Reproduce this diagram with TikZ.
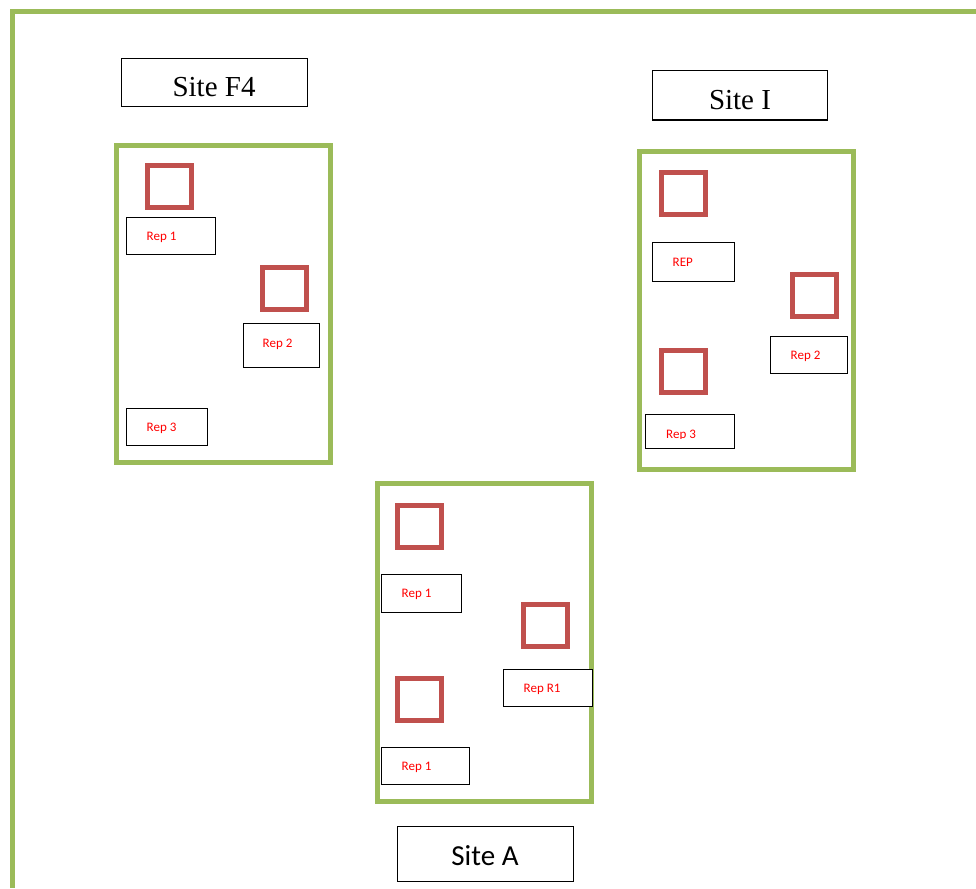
\documentclass[tikz,border=0pt]{standalone}
\usepackage{fontspec}
\setmainfont{Liberation Serif}
\newfontfamily\calibrifont{Carlito}
\definecolor{frgreen}{HTML}{9BBB59}
\definecolor{sqred}{HTML}{C0504D}
\definecolor{txtred}{HTML}{FF0000}
\begin{document}
\begin{tikzpicture}[x=1pt,y=-1pt,
  siteframe/.style={draw=frgreen,line width=5pt,inner sep=0pt,rectangle},
  repsq/.style={draw=sqred,line width=5pt,inner sep=0pt,minimum width=44pt,minimum height=42pt},
  repbox/.style={draw=black,fill=white,line width=1pt,inner sep=0pt},
  replabel/.style={text=txtred,font=\calibrifont\fontsize{13}{15}\selectfont,inner sep=0pt,anchor=west},
  titlebox/.style={draw=black,line width=1pt,inner sep=0pt},
  titletext/.style={font=\fontsize{29}{34}\selectfont,inner sep=0pt,anchor=base},
]
\useasboundingbox (0,0) rectangle (976,888);
\fill[white] (0,0) rectangle (976,888);
% outer frame
\coordinate (otr) at (976,12);
\coordinate (otl) at (12,12);
\coordinate (obl) at (12,888);
\draw[frgreen,line width=5pt] (otr) -- (otl) -- (obl);

% site frames
\node[siteframe,minimum width=214pt,minimum height=317pt] (f4) at (223.5,304) {};
\node[siteframe,minimum width=214pt,minimum height=318pt] (si) at (746.5,310.5) {};
\node[siteframe,minimum width=214pt,minimum height=318pt] (sa) at (484.5,642.5) {};

% red squares
\node[repsq] (f4s1) at (169.5,186.5) {};
\node[repsq] (f4s2) at (284.5,288.5) {};
\node[repsq] (sis1) at (683.5,193) {};
\node[repsq] (sis2) at (814.5,295) {};
\node[repsq] (sis3) at (683.5,371) {};
\node[repsq] (sas1) at (419,526) {};
\node[repsq] (sas2) at (545.5,625.5) {};
\node[repsq] (sas3) at (419,699.5) {};

% rep boxes, site F4
\node[repbox,minimum width=89pt,minimum height=37pt] (f4b1) at (170.5,235.5) {};
\node[replabel] (f4l1) at ([xshift=21pt,yshift=-1.5pt]f4b1.west) {Rep 1};
\node[repbox,minimum width=76pt,minimum height=44pt] (f4b2) at (281,345) {};
\node[replabel] (f4l2) at ([xshift=20pt,yshift=1pt]f4b2.west) {Rep 2};
\node[repbox,minimum width=81pt,minimum height=37pt] (f4b3) at (166.5,426.5) {};
\node[replabel] (f4l3) at ([xshift=21pt,yshift=-1.5pt]f4b3.west) {Rep 3};

% rep boxes, site I
\node[repbox,minimum width=82pt,minimum height=39pt] (sib1) at (693,261.5) {};
\node[replabel] (sil1) at ([xshift=21pt,yshift=-1pt]sib1.west) {REP};
\node[repbox,minimum width=77pt,minimum height=37pt] (sib2) at (808.5,354.5) {};
\node[replabel] (sil2) at ([xshift=21pt,yshift=-1.5pt]sib2.west) {Rep 2};
\node[repbox,minimum width=89pt,minimum height=34pt] (sib3) at (689.5,431) {};
\begin{scope}
\clip (645,418) rectangle (734,438.5);
\node[replabel,anchor=base west] (sil3) at (666,438) {Rep 3};
\end{scope}

% rep boxes, site A
\node[repbox,minimum width=80pt,minimum height=38pt] (sab1) at (421,593) {};
\node[replabel] (sal1) at ([xshift=21pt,yshift=-1.5pt]sab1.west) {Rep 1};
\node[repbox,minimum width=89pt,minimum height=37pt] (sab2) at (547.5,687.5) {};
\node[replabel] (sal2) at ([xshift=21pt,yshift=-1.5pt]sab2.west) {Rep R1};
\node[repbox,minimum width=88pt,minimum height=37pt] (sab3) at (425,765.5) {};
\node[replabel] (sal3) at ([xshift=21pt,yshift=-1.5pt]sab3.west) {Rep 1};

% site titles
\node[titlebox,minimum width=186pt,minimum height=48pt] (f4tb) at (214,83) {};
\node[titletext] (f4tt) at (214,97) {Site F4};
\node[titlebox,minimum width=175pt,minimum height=49pt] (sitb) at (739.5,95.5) {};
\node[titletext] (sitt) at (740,110) {Site I};
\node[titlebox,minimum width=176pt,minimum height=55pt] (satb) at (485,853.5) {};
\node[titletext,font=\calibrifont\fontsize{29}{34}\selectfont] (satt) at (485,865) {Site A};
\end{tikzpicture}
\end{document}
